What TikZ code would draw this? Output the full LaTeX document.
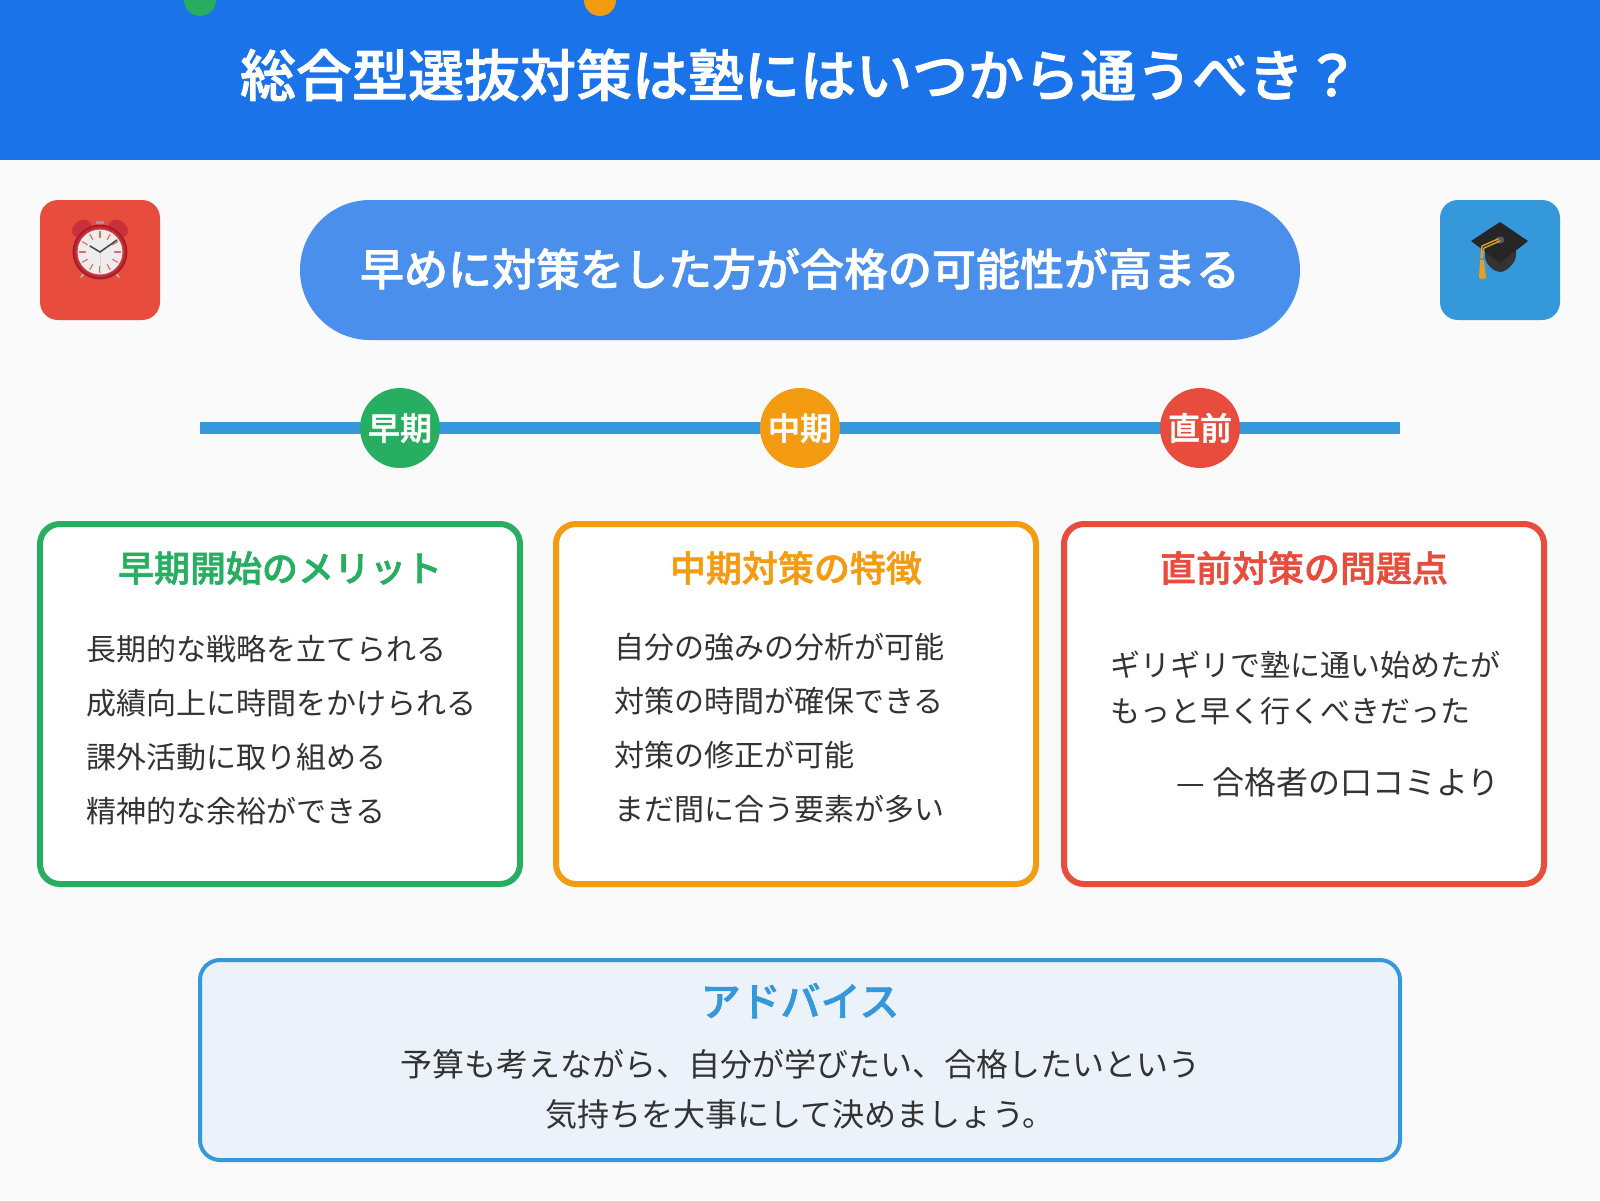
\documentclass[tikz,border=0pt]{standalone}
\usepackage{fontspec}
\setmainfont[BoldFont={Noto Sans CJK JP Medium},BoldFeatures={FakeBold=1.5}]{Noto Sans CJK JP}
\definecolor{headblue}{HTML}{1A73E8}
\definecolor{pillblue}{HTML}{4A8FEC}
\definecolor{lineblue}{HTML}{3498DB}
\definecolor{early}{HTML}{27AE60}
\definecolor{middle}{HTML}{F39C12}
\definecolor{late}{HTML}{E74C3C}
\definecolor{pagebg}{HTML}{FAFAFA}
\definecolor{advicebg}{HTML}{EBF2F9}
\definecolor{bodytext}{HTML}{333333}
\definecolor{clockred}{HTML}{C9303A}
\definecolor{clockdark}{HTML}{A81E28}
\definecolor{tassel}{HTML}{E8A020}
\tikzset{
	fs/.style={font=\fontsize{#1}{#1}\selectfont, text height=#1*0.88pt, text depth=#1*0.12pt, inner sep=0pt},
	fsb/.style={font=\fontsize{#1}{#1}\selectfont\bfseries, text height=#1*0.88pt, text depth=#1*0.12pt, inner sep=0pt},
	card/.style={draw=#1, line width=6pt, fill=white, rounded corners=20pt, minimum width=480pt, minimum height=360pt, inner sep=0pt},
	phase/.style={circle, fill=#1, minimum size=80pt, inner sep=0pt, text=white},
	iconbox/.style={fill=#1, rounded corners=18pt, minimum size=120pt, inner sep=0pt},
}
\begin{document}
\begin{tikzpicture}[x=1pt, y=-1pt, line join=round, line cap=round]
	\useasboundingbox (0,0) rectangle (1600,1200);
	\fill[pagebg] (0,0) rectangle (1600,1200);
	% header
	\fill[headblue] (0,0) rectangle (1600,160);
	\begin{scope}
		\clip (0,0) rectangle (1600,160);
		\fill[early] (200,0) circle(16);
		\fill[middle] (600,0) circle(16);
	\end{scope}
	\node[fsb=56, text=white] (title) at (800,75) {総合型選抜対策は塾にはいつから通うべき？};
	% message
	\node[fill=pillblue, rounded corners=70pt, minimum width=1000pt, minimum height=140pt, inner sep=0pt] (pill) at (800,270) {};
	\node[fsb=44, text=white] (message) at (800,269) {早めに対策をした方が合格の可能性が高まる};
	% clock
	\node[iconbox=late] (clockbox) at (100,260) {};
	\draw[line width=1.8pt, color=black!30] (90,268)--(81,277);
	\draw[line width=1.8pt, color=black!30] (110,268)--(119,277);
	\fill[black!40] (96,221) rectangle (104,224);
	\draw[line width=1.5pt, black!45] (100,224)--(100,228);
	\fill[clockred, rotate around={35:(82,229)}] (82,229) ellipse (10.5 and 8.5);
	\fill[clockred, rotate around={-35:(118,229)}] (118,229) ellipse (10.5 and 8.5);
	\fill[clockdark] (100,252) circle(27.5);
	\fill[clockred] (100,252) circle(25);
	\fill[black!7] (100,252) circle(22.5);
	\foreach \a in {0,30,...,330}\draw[late!85, line width=1.1pt] (100,252)++(\a:14.5)--++(\a:6);
	\draw[brown!35, line width=0.8pt] (100,252)--(100,273);
	\draw[black!70, line width=1.6pt] (100,252)--(90,246);
	\draw[black!70, line width=1.6pt] (100,252)--(117,240);
	% graduation cap
	\node[iconbox=lineblue] (capbox) at (1500,260) {};
	\fill[black!80] (1485,250)--(1485,258) .. controls (1487,266) and (1495,272) .. (1500,272) .. controls (1506,272) and (1516,263) .. (1516,255)--(1516,248)--cycle;
	\fill[black!85] (1500,222)--(1528,241)--(1500,263)--(1471,241)--cycle;
	\fill[black!65] (1500,240) ellipse (4.5 and 3.5);
	\draw[tassel, line width=1.4pt] (1500,241)--(1484,248)--(1482,258);
	\draw[tassel, line width=1.4pt] (1498,239)--(1482,246)--(1481,258);
	\fill[tassel] (1480,260)--(1484,260)--(1486,278)--(1483,279)--(1479,278)--cycle;
	% timeline
	\coordinate (linestart) at (200,428);
	\coordinate (lineend) at (1400,428);
	\draw[lineblue, line width=12pt, line cap=butt] (linestart)--(lineend);
	\node[phase=early, fsb=32] (phaseearly) at (400,428) {早期};
	\node[phase=middle, fsb=32] (phasemiddle) at (800,428) {中期};
	\node[phase=late, fsb=32] (phaselate) at (1200,428) {直前};
	% cards
	\node[card=early] (cardearly) at (280,704) {};
	\node[card=middle] (cardmiddle) at (796,704) {};
	\node[card=late] (cardlate) at (1304,704) {};
	\node[fsb=36, text=early] (headearly) at (280,568) {早期開始のメリット};
	\node[fsb=36, text=middle] (headmiddle) at (796,568) {中期対策の特徴};
	\node[fsb=36, text=late] (headlate) at (1304,568) {直前対策の問題点};
	\foreach \n/\y/\t in {a/649/長期的な戦略を立てられる,b/703/成績向上に時間をかけられる,c/757/課外活動に取り組める,d/811/精神的な余裕ができる}
		\node[fs=30, text=bodytext, anchor=west] (early\n) at (86,\y) {\t};
	\foreach \n/\y/\t in {a/647/自分の強みの分析が可能,b/701/対策の時間が確保できる,c/755/対策の修正が可能,d/809/まだ間に合う要素が多い}
		\node[fs=30, text=bodytext, anchor=west] (middle\n) at (614,\y) {\t};
	\node[fs=30, text=bodytext, anchor=west] (latea) at (1110,665) {ギリギリで塾に通い始めたが};
	\node[fs=30, text=bodytext, anchor=west] (lateb) at (1110,711) {もっと早く行くべきだった};
	\node[fs=32, text=bodytext, anchor=east] (latec) at (1500,782) {— 合格者の口コミより};
	% advice
	\node[draw=lineblue, line width=4pt, fill=advicebg, rounded corners=20pt, minimum width=1200pt, minimum height=200pt, inner sep=0pt] (advicebox) at (800,1060) {};
	\node[fsb=40, text=lineblue] (advicehead) at (800,1001) {アドバイス};
	\node[fs=32, text=bodytext] (advicea) at (800,1064) {予算も考えながら、自分が学びたい、合格したいという};
	\node[fs=32, text=bodytext] (adviceb) at (800,1114) {気持ちを大事にして決めましょう。};
\end{tikzpicture}
\end{document}
